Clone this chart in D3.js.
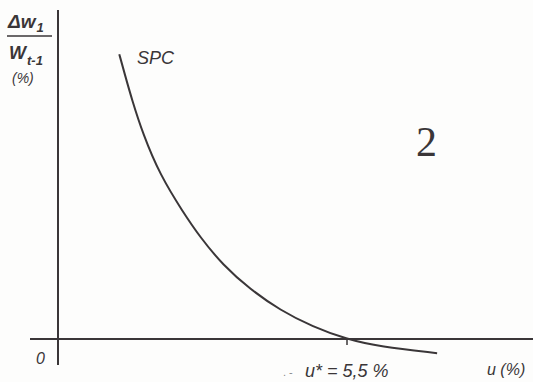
<!DOCTYPE html>
<html>
<head>
<meta charset="utf-8">
<script src="https://cdn.jsdelivr.net/npm/d3@7"></script>
<style>
  html, body { margin: 0; padding: 0; background: #fdfdfc; }
  svg { display: block; }
</style>
</head>
<body>
<svg id="chart" width="533" height="382"></svg>
<script>
// Short-run Phillips curve (SPC): unemployment rate vs. nominal wage growth
const unemployment = [1.17, 1.28, 1.41, 1.62, 1.95, 2.39, 2.71, 3.15, 3.67, 4.24, 4.87, 5.5, 6.15, 7.24];
const wageGrowth   = [5.44, 5.04, 4.58, 3.92, 3.13, 2.42, 1.95, 1.41, 0.95, 0.55, 0.23, 0, -0.15, -0.27];
const naturalRate = 5.5;
const curveLabel = "SPC";
const panelNumber = "2";

const svg = d3.select("#chart");
const ink = "#3a3638";
const sans = "'Liberation Sans', Arial, sans-serif";

const x = d3.scaleLinear().domain([0, 5.5]).range([58, 346]);
const y = d3.scaleLinear().domain([0, 5.5]).range([339, 51]);

function label(px, py, size, txt) {
  return svg.append("text").attr("x", px).attr("y", py)
    .style("font-family", sans).style("font-size", size + "px")
    .style("fill", ink).text(txt);
}

// axes
svg.append("line").attr("x1", x(0)).attr("x2", x(0))
  .attr("y1", 10).attr("y2", 365)
  .attr("stroke", ink).attr("stroke-width", 2);
svg.append("line").attr("x1", 30).attr("x2", 533)
  .attr("y1", y(0)).attr("y2", y(0))
  .attr("stroke", ink).attr("stroke-width", 1.8);

// natural-rate tick
svg.append("line").attr("x1", x(naturalRate) + 1).attr("x2", x(naturalRate) + 1)
  .attr("y1", y(0)).attr("y2", y(0) + 6)
  .attr("stroke", ink).attr("stroke-width", 1.5);

// curve
const pts = unemployment.map((u, i) => [u, wageGrowth[i]]);
svg.append("path").datum(pts)
  .attr("d", d3.line().x(d => x(d[0])).y(d => y(d[1])).curve(d3.curveBasis))
  .attr("fill", "none").attr("stroke", ink).attr("stroke-width", 2);

// labels
label(137, 64, 18, curveLabel).style("font-style", "italic");

svg.append("text").attr("x", 416).attr("y", 156)
  .style("font-family", "'Liberation Serif', 'DejaVu Serif', serif")
  .style("font-size", "42px").style("fill", ink).text(panelNumber);

label(36, 364, 16, "0").style("font-style", "italic");
label(487, 375, 16, "u (%)").style("font-style", "italic");
label(305, 377, 18, "u* = 5,5 %").style("font-style", "italic");
label(283, 376, 11, ". -").style("fill", "#888");

// y-axis label: Δw1 / W(t-1) (%)
const yl = label(8, 28, 19, "").style("font-weight", "bold").style("font-style", "italic");
yl.append("tspan").text("Δw");
yl.append("tspan").style("font-size", "13px").attr("dy", 4).attr("dx", 1).text("1");

svg.append("line").attr("x1", 7).attr("x2", 52).attr("y1", 36).attr("y2", 36)
  .attr("stroke", ink).attr("stroke-width", 1.6);

const yl2 = label(9, 59, 18, "").style("font-weight", "bold").style("font-style", "italic");
yl2.append("tspan").text("W");
yl2.append("tspan").style("font-size", "13px").attr("dy", 6).attr("dx", 1).text("t-1");

label(12, 83, 14, "(%)").style("font-style", "italic");
</script>
</body>
</html>
